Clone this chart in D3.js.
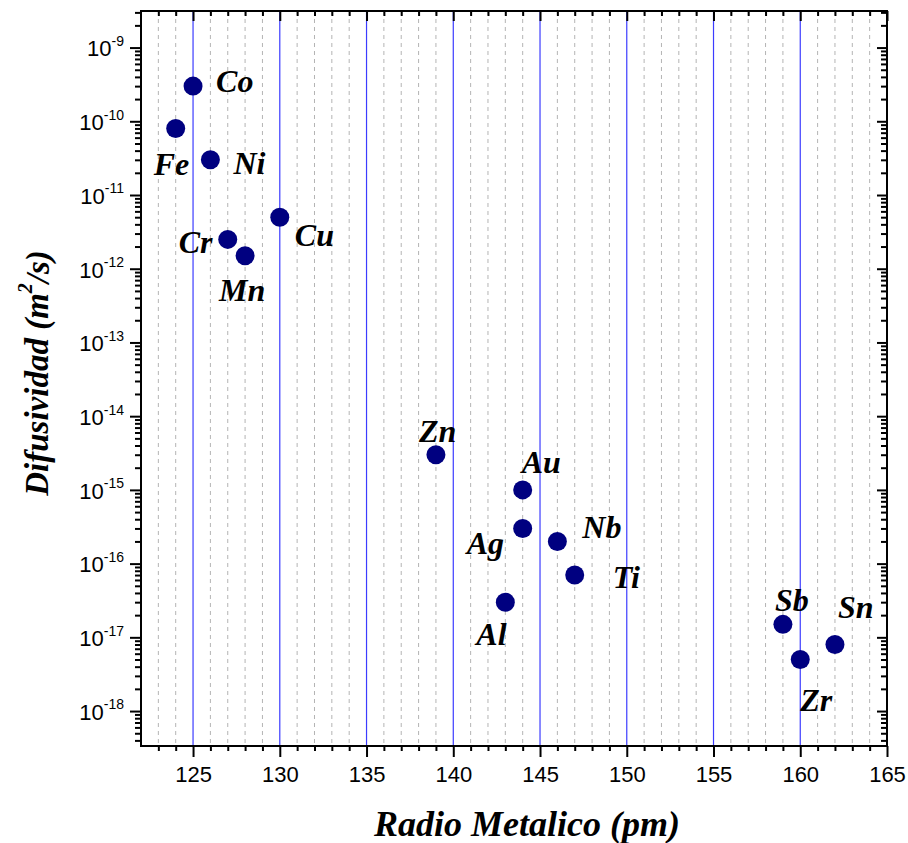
<!DOCTYPE html>
<html>
<head>
<meta charset="utf-8">
<script src="https://cdn.jsdelivr.net/npm/d3@7"></script>
<style>
  body { margin: 0; background: #fff; }
  svg { display: block; }
</style>
</head>
<body>
<div id="chart"></div>
<script>
// Data
const elements = ["Co", "Fe", "Ni", "Cu", "Cr", "Mn", "Zn", "Au", "Ag", "Nb", "Ti", "Al", "Sb", "Sn", "Zr"];
const radius = [125, 124, 126, 130, 127, 128, 139, 144, 144, 146, 147, 143, 159, 162, 160];
const diffusivity = [3e-10, 8e-11, 3e-11, 5e-12, 2.5e-12, 1.5e-12, 3e-15, 1e-15, 3e-16, 2e-16, 7e-17, 3e-17, 1.5e-17, 8e-18, 5e-18];
const xTicks = [125, 130, 135, 140, 145, 150, 155, 160, 165];
const yExponents = [-9, -10, -11, -12, -13, -14, -15, -16, -17, -18];

// label placement relative to each point (px)
const labelOffsets = {
    Co: [23, 6], Fe: [-22, 47], Ni: [23, 14], Cu: [15, 29], Cr: [-49, 14], Mn: [-26, 45],
    Zn: [-17, -13], Au: [-1, -17], Ag: [-56, 26], Nb: [25, -3], Ti: [38, 13], Al: [-29, 43],
    Sb: [-8, -13], Sn: [3, -26], Zr: [0, 51]
};

const svgWidth = 908;
const svgHeight = 843;
const margin = { top: 11, right: 21, bottom: 97, left: 141 };
const width = svgWidth - margin.left - margin.right;
const height = svgHeight - margin.top - margin.bottom;

const svg = d3.select("#chart")
    .append("svg")
    .attr("width", svgWidth)
    .attr("height", svgHeight);

const g = svg.append("g")
    .attr("transform", `translate(${margin.left},${margin.top})`);

// Scales
const xScale = d3.scaleLinear().domain([122, 165]).range([0, width]);
const yScale = d3.scaleLog().domain([Math.pow(10, -18.474), Math.pow(10, -8.504)]).range([height, 0]);

const xMinor = d3.range(123, 165).filter(v => v % 5 !== 0);
const yMinor = [];
for (let e = -19; e <= -9; e++) {
    for (let m = 2; m <= 9; m++) {
        const v = m * Math.pow(10, e);
        if (v >= yScale.domain()[0] && v <= yScale.domain()[1]) yMinor.push(v);
    }
}
const yMajor = yExponents.map(e => Math.pow(10, e));

// Grid lines
g.append("g")
    .selectAll("line")
    .data(xMinor)
    .join("line")
    .attr("x1", d => xScale(d)).attr("x2", d => xScale(d))
    .attr("y1", 0).attr("y2", height)
    .attr("stroke", "#b4b4b4")
    .attr("stroke-width", 1)
    .attr("stroke-dasharray", "4,4");

g.append("g")
    .selectAll("line")
    .data(xTicks.filter(d => d < 165))
    .join("line")
    .attr("x1", d => xScale(d)).attr("x2", d => xScale(d))
    .attr("y1", 0).attr("y2", height)
    .attr("stroke", "#3c3cff")
    .attr("stroke-width", 1.2);

// Axes helper
function styleAxis(sel) {
    sel.select(".domain").remove();
    sel.selectAll("line").attr("stroke", "#000").attr("stroke-width", 2);
}

// bottom
g.append("g").attr("transform", `translate(0,${height})`)
    .call(d3.axisBottom(xScale).tickValues(xMinor).tickSize(5).tickFormat(""))
    .call(styleAxis);
g.append("g").attr("transform", `translate(0,${height})`)
    .call(d3.axisBottom(xScale).tickValues(xTicks).tickSize(11).tickPadding(9).tickFormat(d3.format("d")))
    .call(styleAxis)
    .selectAll("text")
    .attr("font-family", "Liberation Sans, Arial, sans-serif")
    .attr("font-size", "22px")
    .attr("fill", "#000");

// top (inward)
g.append("g")
    .call(d3.axisBottom(xScale).tickValues(xMinor).tickSize(5).tickFormat(""))
    .call(styleAxis);
g.append("g")
    .call(d3.axisBottom(xScale).tickValues(xTicks).tickSize(10).tickFormat(""))
    .call(styleAxis);

// left
g.append("g")
    .call(d3.axisLeft(yScale).tickValues(yMinor).tickSize(6).tickFormat(""))
    .call(styleAxis);
const yAxis = g.append("g")
    .call(d3.axisLeft(yScale).tickValues(yMajor).tickSize(11).tickPadding(6).tickFormat(""))
    .call(styleAxis);

yAxis.selectAll(".tick text")
    .attr("font-family", "Liberation Sans, Arial, sans-serif")
    .attr("font-size", "22px")
    .attr("fill", "#000")
    .attr("dy", "0.38em")
    .each(function (d) {
        const t = d3.select(this);
        t.text("");
        t.append("tspan").text("10");
        t.append("tspan")
            .attr("font-size", "14px")
            .attr("dy", "-0.75em")
            .text(Math.round(Math.log10(d)));
    });

// right (inward)
g.append("g").attr("transform", `translate(${width},0)`)
    .call(d3.axisRight(yScale).tickValues(yMinor).tickSize(-6).tickFormat(""))
    .call(styleAxis);
g.append("g").attr("transform", `translate(${width},0)`)
    .call(d3.axisRight(yScale).tickValues(yMajor).tickSize(-10).tickFormat(""))
    .call(styleAxis);

// Frame
g.append("rect")
    .attr("x", 0).attr("y", 0)
    .attr("width", width).attr("height", height)
    .attr("fill", "none")
    .attr("stroke", "#000")
    .attr("stroke-width", 2);

// Points
const points = elements.map((name, i) => ({ name, r: radius[i], d: diffusivity[i] }));

g.selectAll(".dot")
    .data(points)
    .join("circle")
    .attr("class", "dot")
    .attr("cx", d => xScale(d.r))
    .attr("cy", d => yScale(d.d))
    .attr("r", 9.5)
    .attr("fill", "#000080");

g.selectAll(".lbl")
    .data(points)
    .join("text")
    .attr("class", "lbl")
    .attr("x", d => xScale(d.r) + labelOffsets[d.name][0])
    .attr("y", d => yScale(d.d) + labelOffsets[d.name][1])
    .attr("font-family", "Liberation Serif, Times New Roman, serif")
    .attr("font-size", "32px")
    .attr("font-weight", "bold")
    .attr("font-style", "italic")
    .text(d => d.name);

// Axis titles
svg.append("text")
    .attr("x", 527)
    .attr("y", 836)
    .attr("text-anchor", "middle")
    .attr("font-family", "Liberation Serif, Times New Roman, serif")
    .attr("font-size", "36px")
    .attr("font-weight", "bold")
    .attr("font-style", "italic")
    .text("Radio Metalico (pm)");

const yTitle = svg.append("text")
    .attr("transform", "translate(48,373) rotate(-90)")
    .attr("text-anchor", "middle")
    .attr("font-family", "Liberation Serif, Times New Roman, serif")
    .attr("font-size", "33px")
    .attr("font-weight", "bold")
    .attr("font-style", "italic");
yTitle.append("tspan").text("Difusividad (m");
yTitle.append("tspan").attr("font-size", "20px").attr("dy", "-0.8em").text("2");
yTitle.append("tspan").attr("dy", "0.5em").text("/s)");
</script>
</body>
</html>
